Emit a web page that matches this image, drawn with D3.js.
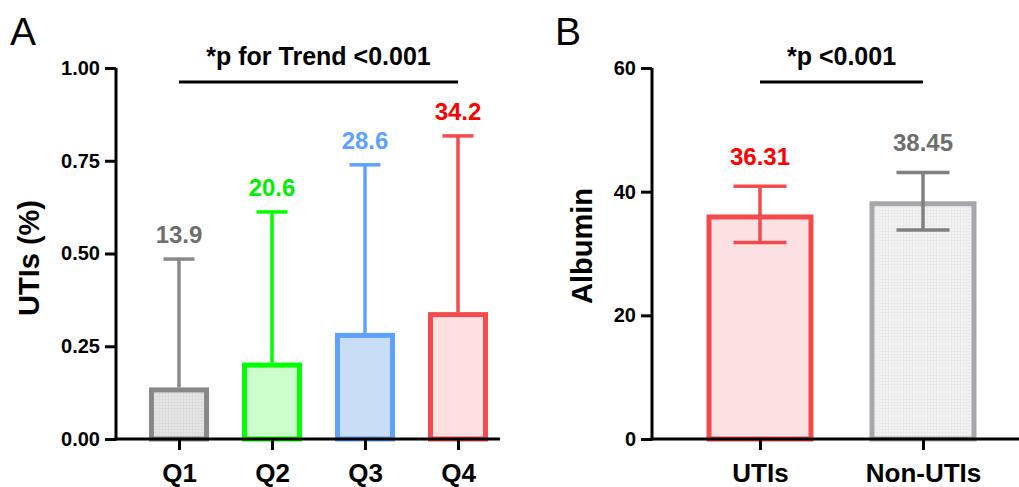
<!DOCTYPE html>
<html>
<head>
<meta charset="utf-8">
<script src="https://cdn.jsdelivr.net/npm/d3@7"></script>
<style>
  body { margin: 0; background: #fff; }
  svg text { font-family: "Liberation Sans", Arial, sans-serif; }
</style>
</head>
<body>
<div class="chart"></div>
<script>
// panel A data
var quartiles = ["Q1", "Q2", "Q3", "Q4"];
var utiRate = [0.139, 0.206, 0.286, 0.342];
var utiUpper = [0.485, 0.612, 0.739, 0.817];
var rateLabels = ["13.9", "20.6", "28.6", "34.2"];
var ticksA = [0, 0.25, 0.5, 0.75, 1.0];
// panel B data
var groups = ["UTIs", "Non-UTIs"];
var albumin = [36.31, 38.45];
var albuminSD = [4.55, 4.65];
var albuminLabels = ["36.31", "38.45"];
var ticksB = [0, 20, 40, 60];

var strokeA = ["#888888", "#00ff00", "#5ea2ff", "#f34a4d"];
var fillA = ["url(#gridA)", "#ccffcc", "#c9ddf6", "#ffdfe0"];
var labelA = ["#6e6e6e", "#00ee00", "#5ea2ff", "#ff0000"];
var strokeB = ["#f34a4d", "#a7a7ab"];
var fillB = ["#fde0e1", "url(#gridB)"];
var errB = ["#f34a4d", "#808080"];
var labelB = ["#ff0000", "#6e6e6e"];

var w = 1019, h = 487;
var svg = d3.select(".chart").append("svg")
    .attr("width", w).attr("height", h);

// fine grid fill like the grey bars
var defs = svg.append("defs");
function gridPattern(id, bg, line) {
    var p = defs.append("pattern").attr("id", id)
        .attr("width", 3).attr("height", 3)
        .attr("patternUnits", "userSpaceOnUse");
    p.append("rect").attr("width", 3).attr("height", 3).attr("fill", bg);
    p.append("path").attr("d", "M0,0.5H3M0.5,0V3")
        .attr("stroke", line).attr("stroke-width", 0.6);
}
gridPattern("gridA", "#e6e6e6", "#d6d6d6");
gridPattern("gridB", "#f3f3f3", "#e6e6e6");

var y0 = 439, y1 = 68;
var sw = 5; // bar outline, drawn inside the bar

function drawPanel(cfg) {
    var g = svg.append("g");
    var yScale = d3.scaleLinear().domain(cfg.domain).range([y0, y1]);
    var xScale = d3.scalePoint().domain(cfg.cats).range(cfg.xr);

    // bars
    g.selectAll(".bar").data(cfg.values).enter().append("rect")
        .attr("x", function(d, i) { return xScale(cfg.cats[i]) - cfg.barW / 2 + sw / 2; })
        .attr("y", function(d) { return yScale(d) + sw / 2; })
        .attr("width", cfg.barW - sw)
        .attr("height", function(d) { return y0 - yScale(d) - sw / 2; })
        .attr("fill", function(d, i) { return cfg.fill[i]; })
        .attr("stroke", function(d, i) { return cfg.stroke[i]; })
        .attr("stroke-width", sw);

    // error bars
    cfg.values.forEach(function(d, i) {
        var cx = xScale(cfg.cats[i]);
        var lo = cfg.lower[i], hi = cfg.upper[i];
        var col = cfg.err[i];
        g.append("line").attr("x1", cx).attr("x2", cx)
            .attr("y1", yScale(lo)).attr("y2", yScale(hi))
            .attr("stroke", col).attr("stroke-width", 3.5);
        g.append("line").attr("x1", cx - cfg.capW / 2).attr("x2", cx + cfg.capW / 2)
            .attr("y1", yScale(hi)).attr("y2", yScale(hi))
            .attr("stroke", col).attr("stroke-width", 3.5);
        if (cfg.showLower) {
            g.append("line").attr("x1", cx - cfg.capW / 2).attr("x2", cx + cfg.capW / 2)
                .attr("y1", yScale(lo)).attr("y2", yScale(lo))
                .attr("stroke", col).attr("stroke-width", 3.5);
        }
        g.append("text")
            .attr("x", cx).attr("y", yScale(hi) - cfg.labelGap)
            .attr("text-anchor", "middle")
            .attr("font-size", 24).attr("font-weight", "bold")
            .attr("fill", cfg.labelCol[i])
            .text(cfg.labels[i]);
    });

    // y axis
    var yAxis = d3.axisLeft(yScale).tickValues(cfg.ticks)
        .tickFormat(cfg.fmt).tickSize(11).tickSizeOuter(0).tickPadding(5);
    var ya = g.append("g")
        .attr("transform", "translate(" + cfg.ax + ",0)")
        .call(yAxis);
    ya.select(".domain").remove();
    ya.selectAll(".tick line").attr("stroke", "#000").attr("stroke-width", 3);
    ya.selectAll(".tick text").attr("font-size", 20).attr("font-weight", "bold")
        .attr("fill", "#000").attr("font-family", "Liberation Sans, Arial, sans-serif");
    g.append("line").attr("x1", cfg.ax).attr("x2", cfg.ax)
        .attr("y1", y1).attr("y2", y0 + 1.5)
        .attr("stroke", "#000").attr("stroke-width", 3);

    // x axis
    var xAxis = d3.axisBottom(xScale).tickSize(11).tickSizeOuter(0).tickPadding(14);
    var xa = g.append("g")
        .attr("transform", "translate(0," + y0 + ")")
        .call(xAxis);
    xa.select(".domain").remove();
    xa.selectAll(".tick line").attr("stroke", "#000").attr("stroke-width", 3);
    xa.selectAll(".tick text").attr("font-size", 26).attr("font-weight", "bold")
        .attr("fill", "#000").attr("font-family", "Liberation Sans, Arial, sans-serif");
    g.append("line").attr("x1", cfg.ax - 1.5).attr("x2", cfg.axEnd)
        .attr("y1", y0).attr("y2", y0)
        .attr("stroke", "#000").attr("stroke-width", 3);

    // axis title
    g.append("text")
        .attr("transform", "translate(" + cfg.titleX + "," + cfg.titleY + ") rotate(-90)")
        .attr("text-anchor", "middle")
        .attr("font-size", 29).attr("font-weight", "bold")
        .text(cfg.yTitle);

    // significance bracket
    var first = xScale(cfg.cats[0]), last = xScale(cfg.cats[cfg.cats.length - 1]);
    g.append("line").attr("x1", first).attr("x2", last)
        .attr("y1", 82).attr("y2", 82)
        .attr("stroke", "#000").attr("stroke-width", 3);
    g.append("text")
        .attr("x", (first + last) / 2).attr("y", 65)
        .attr("text-anchor", "middle")
        .attr("font-size", 25).attr("font-weight", "bold")
        .text(cfg.sig);

    // panel letter
    g.append("text")
        .attr("x", cfg.letterX).attr("y", 45)
        .attr("font-size", 39)
        .text(cfg.letter);
}

drawPanel({
    cats: quartiles, values: utiRate, upper: utiUpper, lower: utiRate,
    labels: rateLabels, domain: [0, 1], ticks: ticksA, fmt: d3.format(".2f"),
    xr: [179, 458], ax: 116, axEnd: 500, barW: 60, capW: 31, labelGap: 16,
    fill: fillA, stroke: strokeA, err: strokeA, labelCol: labelA, showLower: false,
    yTitle: "UTIs (%)", titleX: 39, titleY: 258,
    sig: "*p for Trend <0.001", letter: "A", letterX: 10
});

drawPanel({
    cats: groups, values: albumin,
    upper: albumin.map(function(d, i) { return d + albuminSD[i]; }),
    lower: albumin.map(function(d, i) { return d - albuminSD[i]; }),
    labels: albuminLabels, domain: [0, 60], ticks: ticksB, fmt: d3.format("d"),
    xr: [760, 923], ax: 652, axEnd: 1019, barW: 107, capW: 53, labelGap: 21,
    fill: fillB, stroke: strokeB, err: errB, labelCol: labelB, showLower: true,
    yTitle: "Albumin", titleX: 592, titleY: 246,
    sig: "*p <0.001", letter: "B", letterX: 555
});
</script>
</body>
</html>
